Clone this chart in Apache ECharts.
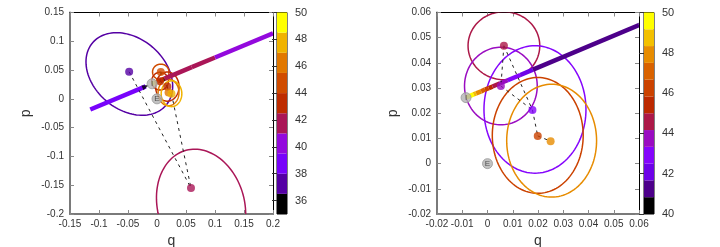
<!DOCTYPE html>
<html><head><meta charset="utf-8">
<script src="https://cdn.jsdelivr.net/npm/echarts@6/dist/echarts.min.js"></script>
<style>html,body{margin:0;padding:0;background:#fff}#c{width:720px;height:247px}</style>
</head><body><div id="c"></div>
<script>
// ---------------- data ----------------
// estimated points (q, p, colour value)
const leftPtsQ = [-0.048, 0.0586, 0.0065, 0.0053, 0.0178, 0.0199, 0.025];
const leftPtsP = [0.047, -0.155, 0.0468, 0.0308, 0.0213, 0.011, 0.0089];
const leftPtsV = [37.2, 41.8, 44.6, 43.8, 42.9, 45.9, 47.8];
const rightPtsQ = [0.0065, 0.0053, 0.0178, 0.0199, 0.025];
const rightPtsP = [0.0468, 0.0308, 0.0213, 0.011, 0.0089];
const rightPtsV = [44.6, 43.8, 42.9, 45.9, 47.8];
// uncertainty ellipses: centre q, centre p, semi-axis a, semi-axis b, angle of a (deg), colour value
const leftEllQ = [-0.0477, 0.076, 0.0065, 0.0053, 0.0178, 0.0199, 0.025];
const leftEllP = [0.0432, -0.186, 0.0468, 0.0308, 0.0213, 0.011, 0.0089];
const leftEllA = [0.0834, 0.100, 0.0142, 0.0144, 0.0202, 0.018, 0.0178];
const leftEllB = [0.0614, 0.075, 0.0135, 0.0154, 0.0253, 0.023, 0.0224];
const leftEllT = [-41, 105, 0, 0, 0, 0, 0];
const leftEllV = [37.2, 41.8, 44.6, 43.8, 42.9, 45.9, 47.8];
const rightEllQ = [0.0065, 0.0053, 0.0188, 0.0199, 0.0254];
const rightEllP = [0.0468, 0.0308, 0.0215, 0.0112, 0.0091];
const rightEllA = [0.0142, 0.0144, 0.0202, 0.018, 0.0178];
const rightEllB = [0.0135, 0.0154, 0.0253, 0.023, 0.0224];
const rightEllT = [0, 0, 0, 0, 0];
const rightEllV = [44.6, 43.8, 42.9, 45.9, 47.8];
// dashed connections (indices into the point lists)
const leftDashFrom = [0, 6, 2, 2, 3, 4, 5];
const leftDashTo = [1, 1, 3, 4, 4, 5, 6];
const rightDashFrom = [0, 0, 1, 2, 3];
const rightDashTo = [1, 2, 2, 3, 4];
// thick coloured trajectory starting at I (value of each piece starting at a node)
const trajQ = [-0.0085, -0.0055, -0.0045, -0.0025, -0.001, 0.0005, 0.002, 0.005, 0.008, 0.013, 0.018, 0.06, 0.1, 0.2];
const trajP = [0.0262, 0.0275, 0.0279, 0.0287, 0.0294, 0.0300, 0.0306, 0.0319, 0.0331, 0.0352, 0.0373, 0.0550, 0.0718, 0.1138];
const trajV = [49.5, 48.6, 47.8, 47.0, 46.2, 45.4, 44.6, 43.8, 42.9, 42.1, 41.3, 41.2, 40.5, 40.2];
// incoming arrow segment (left panel)
const arrowQ = [-0.115, -0.0195];
const arrowP = [-0.0185, 0.0216];
const arrowV = 39;
// reference markers
const refNames = ['I', 'E'];
const refQ = [-0.0085, 0.0];
const refP = [0.0262, 0.0];
// colour bar ranges, number of colours and tick labels
const leftCb = [35, 50];
const rightCb = [40, 50];
const leftColors = 10;
const rightColors = 12;
const leftCbTicks = [36, 38, 40, 42, 44, 46, 48, 50];
const rightCbTicks = [40, 42, 44, 46, 48, 50];

// ---------------- helpers ----------------
function palColor(v, cb) {
  const lo = cb[0], hi = cb[1], n = cb[2];
  let x = (v - lo) / (hi - lo); x = Math.max(0, Math.min(1, x));
  const i = Math.min(n - 1, Math.floor(x * n));
  const g = i / (n - 1);
  const r = Math.sqrt(g), gg = g * g * g, b = Math.max(0, Math.sin(2 * Math.PI * g));
  return 'rgb(' + Math.round(r * 255) + ',' + Math.round(gg * 255) + ',' + Math.round(b * 255) + ')';
}
const LPAL = [leftCb[0], leftCb[1], leftColors];
const RPAL = [rightCb[0], rightCb[1], rightColors];
const FONT = 'Liberation Sans, Arial, sans-serif';
const TXT = '#333';
const FS = 10;

function frameAxes(gi, xr, xi, yr, yi) {
  const xs = [
    { gridIndex: gi, type: 'value', min: xr[0], max: xr[1], interval: xi, position: 'bottom',
      name: 'q', nameLocation: 'middle', nameGap: 17, nameTextStyle: { fontFamily: FONT, fontSize: 14, color: TXT },
      axisLine: { show: true, onZero: false, lineStyle: { color: '#7a7a7a', width: 2 } },
      axisTick: { show: true, inside: true, length: 4, lineStyle: { color: '#888' } },
      axisLabel: { fontFamily: FONT, fontSize: FS, color: TXT, margin: 5 }, splitLine: { show: false } },
    { gridIndex: gi, type: 'value', min: xr[0], max: xr[1], interval: xi, position: 'top',
      axisLine: { show: true, onZero: false, lineStyle: { color: '#000', width: 1 } },
      axisTick: { show: true, inside: true, length: 4, lineStyle: { color: '#888' } },
      axisLabel: { show: false }, splitLine: { show: false } }
  ];
  const ys = [
    { gridIndex: gi, type: 'value', min: yr[0], max: yr[1], interval: yi, position: 'left',
      name: 'p', nameLocation: 'middle', nameGap: 37, nameRotate: 90, nameTextStyle: { fontFamily: FONT, fontSize: 14, color: TXT },
      axisLine: { show: true, onZero: false, lineStyle: { color: '#7a7a7a', width: 2 } },
      axisTick: { show: true, inside: true, length: 4, lineStyle: { color: '#888' } },
      axisLabel: { fontFamily: FONT, fontSize: FS, color: TXT, margin: 6 }, splitLine: { show: false } },
    { gridIndex: gi, type: 'value', min: yr[0], max: yr[1], interval: yi, position: 'right',
      axisLine: { show: true, onZero: false, lineStyle: { color: '#000', width: 1 } },
      axisTick: { show: true, inside: true, length: 4, lineStyle: { color: '#888' } },
      axisLabel: { show: false }, splitLine: { show: false } }
  ];
  return { xs, ys };
}
function cbAxes(gi, cb, ticks) {
  return {
    xs: [{ gridIndex: gi, type: 'value', min: 0, max: 1, show: false }],
    ys: [{ gridIndex: gi, type: 'value', min: cb[0], max: cb[1], position: 'right',
      axisLine: { show: false }, splitLine: { show: false },
      axisTick: { show: true, inside: true, length: 5, customValues: ticks, lineStyle: { color: '#333' } },
      axisLabel: { fontFamily: FONT, fontSize: FS + 1, color: TXT, margin: 8, customValues: ticks } }]
  };
}

const L = frameAxes(0, [-0.15, 0.2], 0.05, [-0.2, 0.15], 0.05);
const R = frameAxes(1, [-0.02, 0.06], 0.01, [-0.02, 0.06], 0.01);
const LC = cbAxes(2, leftCb, leftCbTicks);
const RC = cbAxes(3, rightCb, rightCbTicks);
const xAxes = [...L.xs, ...R.xs, ...LC.xs, ...RC.xs];
const yAxes = [...L.ys, ...R.ys, ...LC.ys, ...RC.ys];

function ellipseSeries(ax, Q, P, A, B, T, V, pal) {
  const data = Q.map((q, i) => [q, P[i], A[i], B[i], T[i], V[i]]);
  return { type: 'custom', xAxisIndex: ax, yAxisIndex: ax, clip: true, z: 2, silent: true,
    data, encode: { x: 0, y: 1 },
    renderItem: (params, api) => {
      const cq = api.value(0), cp = api.value(1), a = api.value(2), b = api.value(3);
      const th = api.value(4) * Math.PI / 180, v = api.value(5);
      const pts = [];
      for (let k = 0; k <= 120; k++) {
        const t = k / 120 * 2 * Math.PI, dx = a * Math.cos(t), dy = b * Math.sin(t);
        pts.push(api.coord([cq + dx * Math.cos(th) - dy * Math.sin(th), cp + dx * Math.sin(th) + dy * Math.cos(th)]));
      }
      return { type: 'polyline', shape: { points: pts }, style: { stroke: palColor(v, pal), fill: null, lineWidth: 1.5 } };
    } };
}
function trajSeries(ax, Q, P, V, pal) {
  const data = [];
  for (let i = 0; i < Q.length - 1; i++) data.push([Q[i], P[i], Q[i + 1], P[i + 1], V[i]]);
  return { type: 'custom', xAxisIndex: ax, yAxisIndex: ax, clip: true, z: 3, silent: true,
    data, encode: { x: 0, y: 1 },
    renderItem: (params, api) => {
      const p1 = api.coord([api.value(0), api.value(1)]), p2 = api.coord([api.value(2), api.value(3)]);
      return { type: 'line', shape: { x1: p1[0], y1: p1[1], x2: p2[0], y2: p2[1] },
        style: { stroke: palColor(api.value(4), pal), lineWidth: 4.5, lineCap: 'butt' } };
    } };
}
function dashSeries(ax, Q, P, F, T) {
  const data = F.map((f, i) => [Q[f], P[f], Q[T[i]], P[T[i]]]);
  return { type: 'custom', xAxisIndex: ax, yAxisIndex: ax, clip: true, z: 4, silent: true,
    data, encode: { x: 0, y: 1 },
    renderItem: (params, api) => {
      const p1 = api.coord([api.value(0), api.value(1)]), p2 = api.coord([api.value(2), api.value(3)]);
      return { type: 'line', shape: { x1: p1[0], y1: p1[1], x2: p2[0], y2: p2[1] },
        style: { stroke: '#222', lineWidth: 1, lineDash: [3, 4] } };
    } };
}
function dotSeries(ax, Q, P, V, pal) {
  return { type: 'scatter', xAxisIndex: ax, yAxisIndex: ax, z: 5, silent: true, symbolSize: 8,
    data: Q.map((q, i) => ({ value: [q, P[i]], itemStyle: { color: palColor(V[i], pal) } })) };
}
function refSeries(ax) {
  return { type: 'scatter', xAxisIndex: ax, yAxisIndex: ax, z: 6, silent: true, symbolSize: 10,
    itemStyle: { color: '#b3b3b3', borderColor: '#9a9a9a', borderWidth: 1 },
    label: { show: true, position: 'inside', formatter: p => p.name, fontFamily: FONT, fontSize: 8, color: '#333' },
    data: refNames.map((n, i) => ({ name: n, value: [refQ[i], refP[i]] })) };
}
function cbSeries(ax, pal) {
  const data = [], n = pal[2];
  for (let i = 0; i < n; i++) {
    const lo = pal[0] + i * (pal[1] - pal[0]) / n, hi = pal[0] + (i + 1) * (pal[1] - pal[0]) / n;
    data.push([lo, hi, (lo + hi) / 2]);
  }
  return { type: 'custom', xAxisIndex: ax, yAxisIndex: ax, z: 1, silent: true, data,
    renderItem: (params, api) => {
      const a = api.coord([0, api.value(1)]), b = api.coord([1, api.value(0)]);
      return { type: 'rect', shape: { x: a[0], y: a[1], width: b[0] - a[0], height: b[1] - a[1] },
        style: { fill: palColor(api.value(2), pal), stroke: null } };
    } };
}

const G = { containLabel: false, outerBoundsMode: 'none' };
const option = {
  backgroundColor: '#fff',
  animation: false,
  grid: [
    Object.assign({ left: 70, top: 12.5, width: 203, height: 201.5 }, G),
    Object.assign({ left: 437, top: 12.5, width: 202, height: 201.5 }, G),
    Object.assign({ left: 277, top: 12.5, width: 10, height: 201.5, show: true, borderColor: '#000', borderWidth: 1 }, G),
    Object.assign({ left: 644, top: 12.5, width: 10, height: 201.5, show: true, borderColor: '#000', borderWidth: 1 }, G)
  ],
  xAxis: xAxes,
  yAxis: yAxes,
  series: [
    ellipseSeries(0, leftEllQ, leftEllP, leftEllA, leftEllB, leftEllT, leftEllV, LPAL),
    trajSeries(0, trajQ, trajP, trajV, LPAL),
    trajSeries(0, arrowQ, arrowP, [arrowV, arrowV], LPAL),
    dashSeries(0, leftPtsQ, leftPtsP, leftDashFrom, leftDashTo),
    dotSeries(0, leftPtsQ, leftPtsP, leftPtsV, LPAL),
    { type: 'scatter', xAxisIndex: 0, yAxisIndex: 0, z: 5, silent: true, symbol: 'triangle', symbolSize: [5, 7],
      symbolRotate: -66, itemStyle: { color: '#000' }, data: [[arrowQ[1], arrowP[1]]] },
    refSeries(0),
    ellipseSeries(2, rightEllQ, rightEllP, rightEllA, rightEllB, rightEllT, rightEllV, RPAL),
    trajSeries(2, trajQ, trajP, trajV, RPAL),
    dashSeries(2, rightPtsQ, rightPtsP, rightDashFrom, rightDashTo),
    dotSeries(2, rightPtsQ, rightPtsP, rightPtsV, RPAL),
    refSeries(2),
    cbSeries(4, LPAL),
    cbSeries(5, RPAL)
  ]
};
const chart = echarts.init(document.getElementById('c'), null, { renderer: 'canvas' });
chart.setOption(option);
</script>
</body></html>
